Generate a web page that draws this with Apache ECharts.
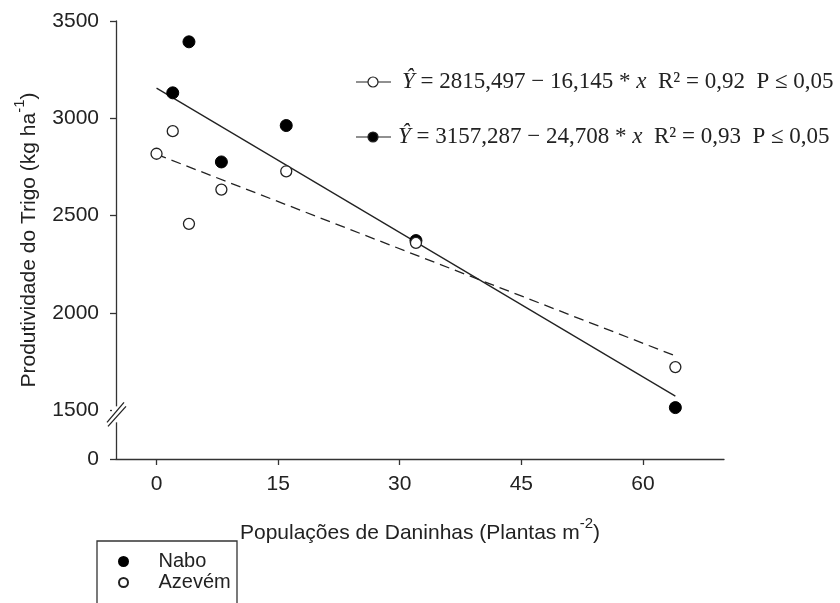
<!DOCTYPE html>
<html>
<head>
<meta charset="utf-8">
<script src="https://cdn.jsdelivr.net/npm/echarts@6/dist/echarts.min.js"></script>
<style>
  html, body { margin: 0; background: #fff; }
  #chart { width: 840px; height: 603px; }
</style>
</head>
<body>
<div id="chart"></div>
<script>
// tick labels
const xTicks = [0, 15, 30, 45, 60];
const yTicks = [0, 1500, 2000, 2500, 3000, 3500];
// the axis is broken below 1500: "0" is drawn where 1250 would be
const yBreakBase = 1250;

// observed yields
const naboX = [2, 4, 8, 16, 32, 64];
const naboY = [3131, 3393, 2776, 2963, 2372, 1514];
const azevemX = [0, 2, 4, 8, 16, 32, 64];
const azevemY = [2818, 2934, 2458, 2634, 2728, 2360, 1722];

// fitted lines (end points)
const fitX = [0, 64];
const naboFitY = [3155, 1573];
const azevemFitY = [2815, 1780];

// regression captions
const azevemEq = ['2815,497', '16,145', '0,92', '0,05'];
const naboEq = ['3157,287', '24,708', '0,93', '0,05'];

const ink = '#222';
const sans = 'Liberation Sans, Arial, sans-serif';
const serif = 'Liberation Serif, Times New Roman, serif';

function pairs(xs, ys) {
  return xs.map((x, i) => [x, ys[i]]);
}

function eqText(p) {
  return '{i|\u0176}{r| = ' + p[0] + ' \u2212 ' + p[1] + ' * }{i|x}{r|  R\u00b2 = ' + p[2] + '  P \u2264 ' + p[3] + '}';
}

const eqRich = {
  i: { fontFamily: serif, fontSize: 23, fontStyle: 'italic', fill: ink },
  r: { fontFamily: serif, fontSize: 23, fill: ink }
};

function eqKey(y, filled, textX, p) {
  return [
    { type: 'line', shape: { x1: 356, y1: y, x2: 391, y2: y }, style: { stroke: ink, lineWidth: 1.2 } },
    { type: 'circle', shape: { cx: 373, cy: y, r: 5 }, style: { fill: filled ? '#000' : '#fff', stroke: ink, lineWidth: 1.2 } },
    { type: 'text', x: textX, y: y, style: { text: eqText(p), rich: eqRich, verticalAlign: 'middle', fill: ink } }
  ];
}

const axisRich = {
  n: { fontFamily: sans, fontSize: 21, color: ink, lineHeight: 28, verticalAlign: 'bottom' },
  s: { fontFamily: sans, fontSize: 15, color: ink, lineHeight: 15, verticalAlign: 'top' }
};

const chart = echarts.init(document.getElementById('chart'));

const option = {
  animation: false,
  backgroundColor: '#fff',
  grid: { left: 116, right: 116, top: 21, bottom: 144, outerBoundsMode: 'none' },
  xAxis: {
    type: 'value',
    min: -5,
    max: 70,
    name: '{n|Popula\u00e7\u00f5es de Daninhas (Plantas m}{s|-2}{n|)}',
    nameLocation: 'middle',
    nameGap: 57,
    nameTextStyle: { rich: axisRich },
    axisLine: { onZero: false, lineStyle: { color: '#333', width: 1.3 } },
    axisTick: { customValues: xTicks, length: 6, lineStyle: { color: '#333', width: 1.3 } },
    axisLabel: { customValues: xTicks, margin: 15, fontFamily: sans, fontSize: 21, color: ink },
    splitLine: { show: false }
  },
  yAxis: {
    type: 'value',
    min: yBreakBase,
    max: 3500,
    name: '{n|Produtividade do Trigo (kg ha}{s|-1}{n|)}',
    nameLocation: 'middle',
    nameRotate: 90,
    nameGap: 76,
    nameTextStyle: { rich: axisRich },
    axisLine: { show: true, onZero: false, lineStyle: { color: '#333', width: 1.3 } },
    axisTick: {
      show: true,
      customValues: yTicks.map(v => (v === 0 ? yBreakBase : v)),
      length: 6,
      lineStyle: { color: '#333', width: 1.3 }
    },
    axisLabel: {
      customValues: yTicks.map(v => (v === 0 ? yBreakBase : v)),
      margin: 17,
      fontFamily: sans,
      fontSize: 21,
      color: ink,
      formatter: v => (v === yBreakBase ? '0' : String(v))
    },
    splitLine: { show: false }
  },
  legend: {
    data: ['Nabo', 'Azev\u00e9m'],
    orient: 'vertical',
    left: 97,
    top: 541,
    padding: [10, 7, 0, 21],
    itemGap: 0,
    itemWidth: 20,
    itemHeight: 9,
    icon: 'circle',
    textStyle: { fontFamily: sans, fontSize: 20, color: ink, lineHeight: 21, padding: [0, 0, 0, 20] }
  },
  series: [
    {
      name: 'fit Azevém',
      type: 'line',
      data: pairs(fitX, azevemFitY),
      showSymbol: false,
      lineStyle: { color: ink, width: 1.3, type: [10, 6] },
      z: 1
    },
    {
      name: 'fit Nabo',
      type: 'line',
      data: pairs(fitX, naboFitY),
      showSymbol: false,
      lineStyle: { color: ink, width: 1.3 },
      z: 1
    },
    {
      name: 'Nabo',
      type: 'scatter',
      data: pairs(naboX, naboY),
      symbolSize: 12,
      itemStyle: { color: '#000', borderColor: '#000', borderWidth: 1, opacity: 1 },
      z: 2
    },
    {
      name: 'Azev\u00e9m',
      type: 'scatter',
      data: pairs(azevemX, azevemY),
      symbolSize: 11,
      itemStyle: { color: '#fff', borderColor: ink, borderWidth: 1.3, opacity: 1 },
      z: 3
    }
  ],
  graphic: [].concat(
    eqKey(82, false, 402, azevemEq),
    eqKey(137, true, 398, naboEq),
    // legend frame, cut off by the bottom of the picture as in the original
    [{ type: 'rect', shape: { x: 97, y: 541, width: 140, height: 90 }, style: { fill: 'none', stroke: '#333', lineWidth: 1.3 } }]
  )
};

chart.setOption(option);

// break marks on the y axis, placed just around the 1500 tick
const ax = chart.convertToPixel({ xAxisIndex: 0 }, -5);
const by = chart.convertToPixel({ yAxisIndex: 0 }, 1500) + 4;
chart.setOption({
  graphic: option.graphic.concat([
    { type: 'rect', shape: { x: ax - 4, y: by - 8, width: 9, height: 16 }, style: { fill: '#fff' }, z: 50 },
    { type: 'line', shape: { x1: ax - 9, y1: by + 8, x2: ax + 8, y2: by - 12 }, style: { stroke: ink, lineWidth: 1.3 }, z: 51 },
    { type: 'line', shape: { x1: ax - 8, y1: by + 12, x2: ax + 10, y2: by - 8 }, style: { stroke: ink, lineWidth: 1.3 }, z: 51 }
  ])
});
</script>
</body>
</html>
